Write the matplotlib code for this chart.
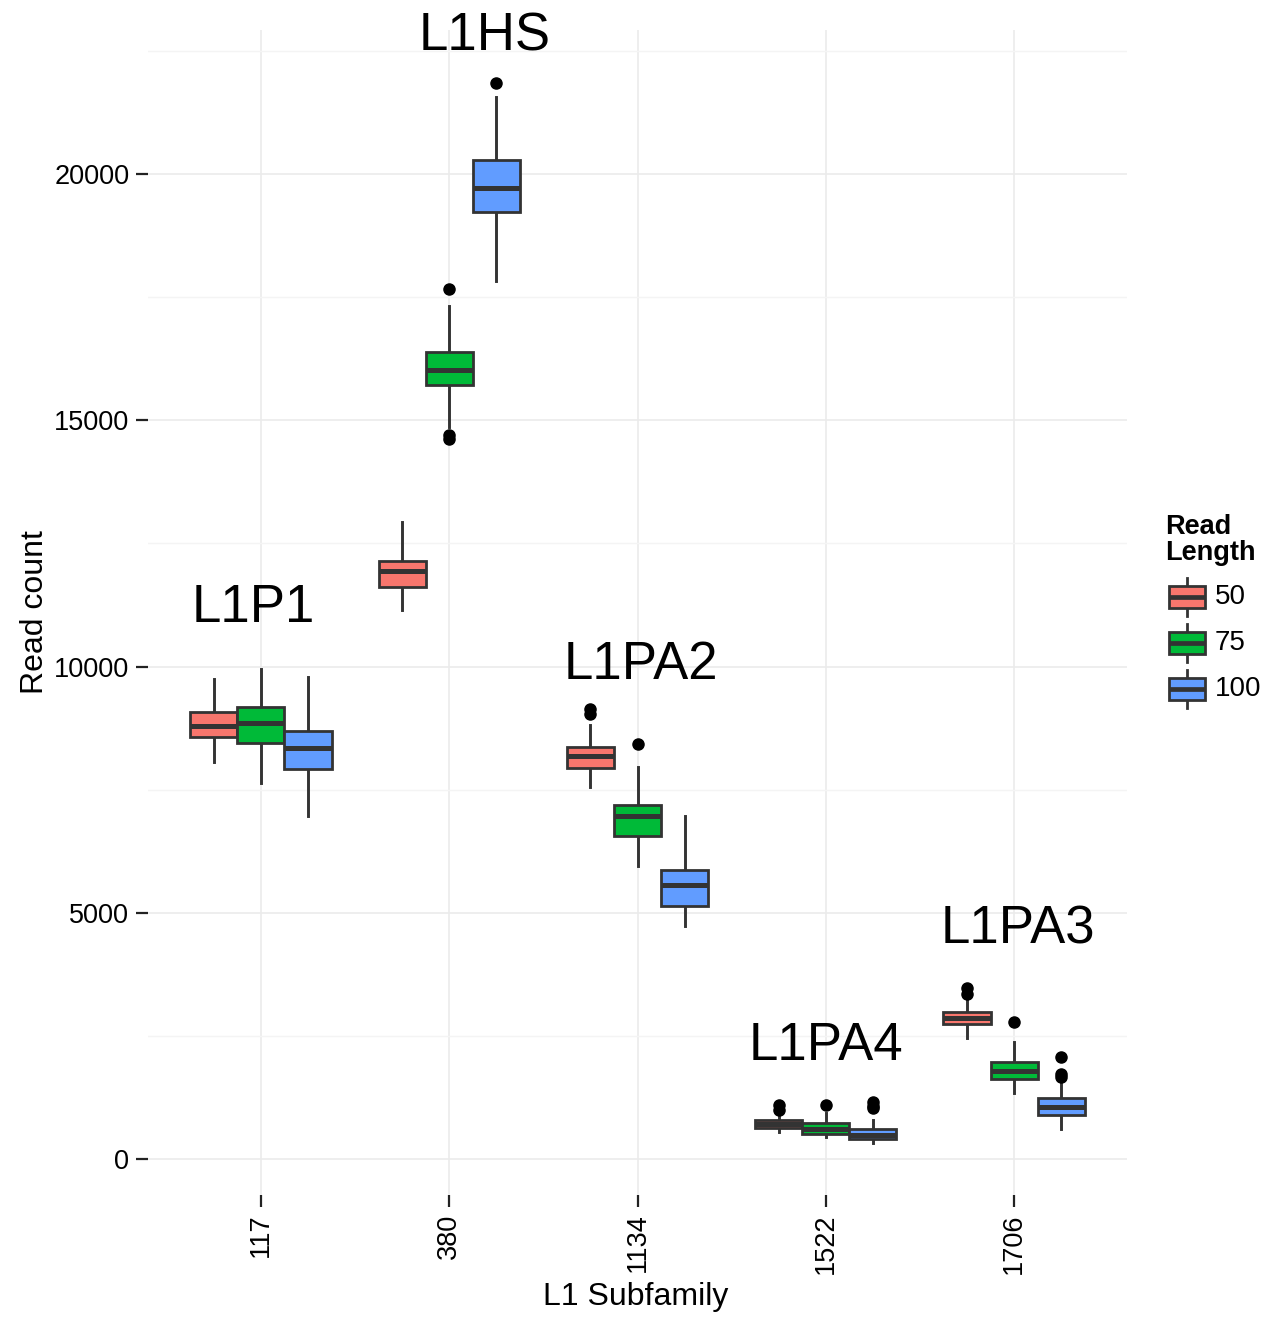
import matplotlib
matplotlib.use("Agg")
import matplotlib.pyplot as plt
from matplotlib.patches import Rectangle
import numpy as np

plt.rcParams['font.family'] = ['Liberation Sans', 'DejaVu Sans']

# ---------------- data ----------------
subfamilies = ['117', '380', '1134', '1522', '1706']
read_lengths = ['50', '75', '100']
colors = ['#F8766D', '#00BA38', '#619CFF']

q1_50 = [8562, 11620, 7933, 636, 2734]
med_50 = [8792, 11939, 8183, 710, 2860]
q3_50 = [9082, 12148, 8372, 792, 2992]
lo_50 = [8055, 11147, 7560, 555, 2450]
hi_50 = [9746, 12928, 8812, 961, 3262]
out_50 = [[], [], [9127, 9036], [1096, 995], [3462, 3360]]

q1_75 = [8453, 15716, 6558, 510, 1618]
med_75 = [8847, 16020, 6964, 610, 1793]
q3_75 = [9171, 16392, 7188, 725, 1976]
lo_75 = [7628, 14870, 5956, 453, 1334]
hi_75 = [9943, 17326, 7953, 934, 2382]
out_75 = [[], [17659, 14700, 14620], [8426], [1096], [2772]]

q1_100 = [7919, 19235, 5137, 400, 893]
med_100 = [8339, 19722, 5563, 490, 1062]
q3_100 = [8697, 20284, 5868, 605, 1232]
lo_100 = [6965, 17834, 4737, 318, 603]
hi_100 = [9793, 21570, 6971, 792, 1570]
out_100 = [[], [21842], [], [1150, 1080, 1040], [2065, 1726, 1665]]

labels = ['L1P1', 'L1HS', 'L1PA2', 'L1PA4', 'L1PA3']
label_x = [-0.04, 1.19, 2.02, 3.0, 4.02]
label_y = [11188, 22782, 10030, 2294, 4650]

series = [
    (q1_50, med_50, q3_50, lo_50, hi_50, out_50),
    (q1_75, med_75, q3_75, lo_75, hi_75, out_75),
    (q1_100, med_100, q3_100, lo_100, hi_100, out_100),
]

# ---------------- figure ----------------
W, H = 1266, 1317
fig = plt.figure(figsize=(W / 100, H / 100), dpi=100)
L, R, T, B = 148, 1127, 30, 1195
ax = fig.add_axes([L / W, 1 - B / H, (R - L) / W, (B - T) / H])

edge = '#333333'
width = 0.25
offsets = [-0.25, 0.0, 0.25]

for s_idx, (q1, med, q3, lo, hi, out) in enumerate(series):
    stats = []
    for i in range(len(subfamilies)):
        stats.append(dict(q1=q1[i], med=med[i], q3=q3[i], whislo=lo[i],
                          whishi=hi[i], fliers=out[i]))
    pos = [i + offsets[s_idx] for i in range(len(subfamilies))]
    bp = ax.bxp(stats, positions=pos, widths=width, patch_artist=True,
                showcaps=False, manage_ticks=False,
                boxprops=dict(facecolor=colors[s_idx], edgecolor=edge, linewidth=2.0),
                medianprops=dict(color=edge, linewidth=3.6, solid_capstyle='butt'),
                whiskerprops=dict(color=edge, linewidth=2.1),
                flierprops=dict(marker='o', markerfacecolor='black',
                                markeredgecolor='black', markersize=8))
    for b in bp['boxes']:
        b.set_zorder(3)
    for m in bp['medians']:
        m.set_zorder(4)

for lab, x, y in zip(labels, label_x, label_y):
    ax.text(x, y, lab, ha='center', va='center', fontsize=38, color='black', zorder=6)

ax.set_xlim(-0.6, 4.6)
ax.set_ylim(-731, 22924)
ax.set_xticks(range(len(subfamilies)))
ax.set_xticklabels(subfamilies, rotation=90, fontsize=19.5)
ax.set_yticks([0, 5000, 10000, 15000, 20000])
ax.set_yticklabels(['0', '5000', '10000', '15000', '20000'], fontsize=19.5)
ax.set_yticks([2500, 7500, 12500, 17500, 22500], minor=True)
ax.tick_params(axis='both', which='major', length=8.5, width=1.6, color='#222222', pad=5)
ax.tick_params(axis='y', which='minor', length=0)
ax.grid(True, which='major', color='#EBEBEB', linewidth=1.2, zorder=0)
ax.grid(True, which='minor', axis='y', color='#F4F4F4', linewidth=1.0, zorder=0)
ax.set_axisbelow(True)
for sp in ax.spines.values():
    sp.set_visible(False)

fig.text(636 / W, 1 - 1297 / H, 'L1 Subfamily', ha='center', va='center', fontsize=23)
fig.text(35 / W, 1 - 612 / H, 'Read count', ha='center', va='center', fontsize=23, rotation=90)

# ---------------- legend ----------------
fig.text(1165 / W, 1 - 540 / H, 'Read\nLength', ha='left', va='center',
         fontsize=19.5, fontweight='bold', linespacing=1.0)
lax = fig.add_axes([0, 0, 1, 1])
lax.set_xlim(0, W)
lax.set_ylim(H, 0)
lax.axis('off')
key_y = [597, 643, 689]
for c, lab, ky in zip(colors, read_lengths, key_y):
    lax.plot([1187, 1187], [ky - 19, ky + 19], color=edge, lw=2.0, zorder=1)
    lax.add_patch(Rectangle((1169, ky - 11), 36, 22, facecolor=c, edgecolor=edge,
                            linewidth=2.0, zorder=2))
    lax.plot([1169, 1205], [ky, ky], color=edge, lw=3.4, zorder=3, solid_capstyle='butt')
    lax.text(1215, ky, lab, ha='left', va='center', fontsize=20)

fig.savefig('out.png', dpi=100, facecolor='white')
